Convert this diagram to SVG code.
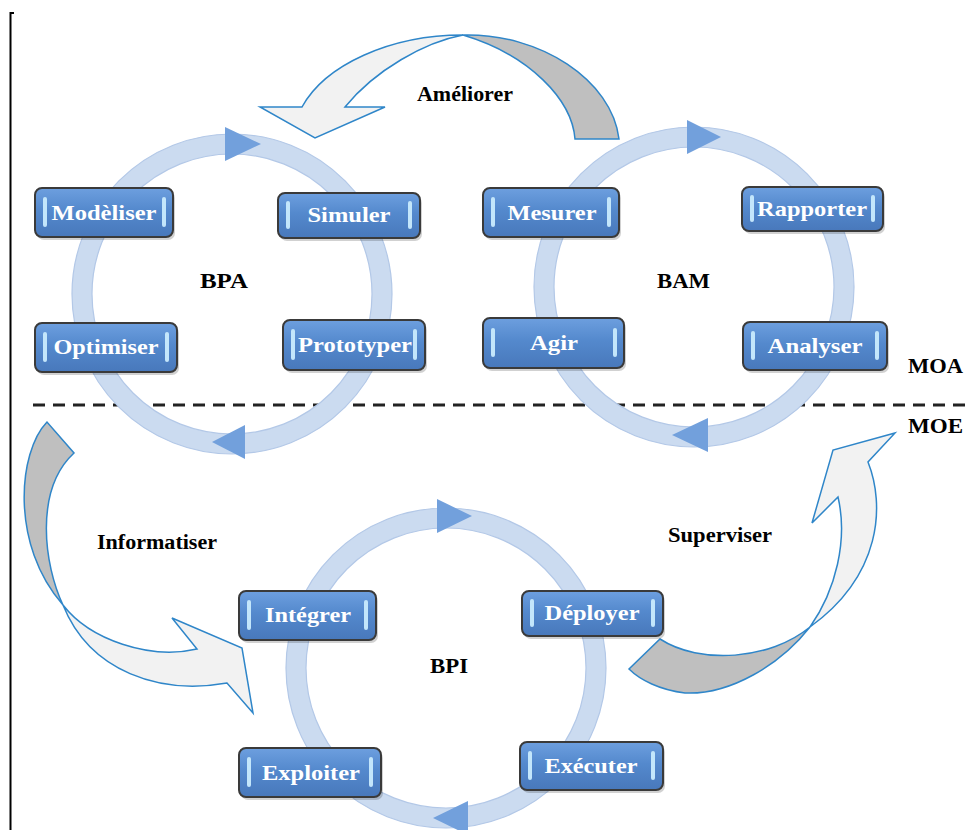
<svg xmlns="http://www.w3.org/2000/svg" width="969" height="830" viewBox="0 0 969 830">
<style>
.ring{fill:none;stroke:#cbdbf0;stroke-width:20}
.ringedge{fill:none;stroke:#b3c8e7;stroke-width:1.2}
.rarrow{fill:#72a0dc}
.light{fill:#f2f2f2;stroke:#2f86c9;stroke-width:1.5;stroke-linejoin:miter}
.gray{fill:#bfbfbf;stroke:#2f86c9;stroke-width:1.5}
.box{fill:url(#g);stroke:#3a3a3a;stroke-width:2}
.shadow{fill:#000;opacity:0.18}
.bar{fill:#c3e6fb}
.nt{font-family:"Liberation Serif","Times New Roman",serif;font-weight:bold;font-size:21px;fill:#ffffff;text-anchor:middle}
.lb{font-family:"Liberation Serif","Times New Roman",serif;font-weight:bold;font-size:20px;fill:#000000}
</style>
<defs>
<linearGradient id="g" x1="0" y1="0" x2="0" y2="1">
<stop offset="0" stop-color="#6d9fdf"/>
<stop offset="0.45" stop-color="#5489cd"/>
<stop offset="1" stop-color="#4878bb"/>
</linearGradient>
</defs>
<rect width="969" height="830" fill="#ffffff"/>
<polyline points="14,13 10.5,13 10.5,830" fill="none" stroke="#000" stroke-width="2"/>
<line x1="33" y1="405" x2="969" y2="405" stroke="#222" stroke-width="3" stroke-dasharray="12 8"/>

<g id="connectors">
  <g id="cycle-bpa">
    <circle class="ring" cx="232" cy="294" r="150"/>
    <circle class="ringedge" cx="232" cy="294" r="160"/>
    <circle class="ringedge" cx="232" cy="294" r="140"/>
    <polygon class="rarrow" points="225,127 225,161 261,144"/>
    <polygon class="rarrow" points="245,425 245,459 212,442"/>
  </g>
  <g id="cycle-bam">
    <circle class="ring" cx="694" cy="287" r="150"/>
    <circle class="ringedge" cx="694" cy="287" r="160"/>
    <circle class="ringedge" cx="694" cy="287" r="140"/>
    <polygon class="rarrow" points="687,120 687,154 721,137"/>
    <polygon class="rarrow" points="708,418 708,452 672,435"/>
  </g>
  <g id="cycle-bpi">
    <circle class="ring" cx="446" cy="668" r="150"/>
    <circle class="ringedge" cx="446" cy="668" r="160"/>
    <circle class="ringedge" cx="446" cy="668" r="140"/>
    <polygon class="rarrow" points="437,499 437,533 472,516"/>
    <polygon class="rarrow" points="468,801 468,835 433,818"/>
  </g>
  <g id="arrow-ameliorer">
    <path class="gray" d="M463,35 C540,33 612,80 619,139 L575,139 C572,100 530,55 463,35 Z"/>
    <path class="light" d="M302,107 C325,65 390,35 463,35 C425,42 375,70 345,107 L385,107 L315,138 L260,107 Z"/>
  </g>
  <g id="arrow-informatiser">
    <path class="gray" d="M47,422 C18,452 10,545 63,605 C44,565 34,490 74,453 Z"/>
    <path class="light" d="M63,605 C90,640 150,660 197,649 L172,618 L242,648 L253,713 L227,683 C160,695 90,672 63,605 Z"/>
  </g>
  <g id="arrow-superviser">
    <path class="gray" d="M660,639 C700,665 770,660 810,627 C780,665 730,695 685,693 C660,690 640,680 629,669 Z"/>
    <path class="light" d="M810,627 C836,590 848,540 838,497 L812,523 L833,450 L895,433 L868,462 C885,505 882,575 810,627 Z"/>
  </g>
</g>

<g id="labels">
  <text class="lb" x="200" y="288" textLength="48" lengthAdjust="spacingAndGlyphs">BPA</text>
  <text class="lb" x="657" y="288" textLength="53" lengthAdjust="spacingAndGlyphs">BAM</text>
  <text class="lb" x="430" y="673" textLength="38" lengthAdjust="spacingAndGlyphs">BPI</text>
  <text class="lb" x="417" y="101" font-size="19" textLength="96" lengthAdjust="spacingAndGlyphs">Améliorer</text>
  <text class="lb" x="97" y="549" textLength="120" lengthAdjust="spacingAndGlyphs">Informatiser</text>
  <text class="lb" x="668" y="542" textLength="104" lengthAdjust="spacingAndGlyphs">Superviser</text>
  <text class="lb" x="908" y="373" textLength="55" lengthAdjust="spacingAndGlyphs">MOA</text>
  <text class="lb" x="908" y="433" textLength="55" lengthAdjust="spacingAndGlyphs">MOE</text>
</g>

<g id="node-modeliser">
  <rect class="shadow" x="37" y="191" width="138" height="49" rx="7"/>
  <rect class="box" x="35" y="188" width="138" height="49" rx="7"/>
  <rect class="bar" x="43" y="197" width="4" height="30" rx="2"/>
  <rect class="bar" x="162" y="197" width="4" height="30" rx="2"/>
  <text class="nt" x="104" y="220" textLength="105" lengthAdjust="spacingAndGlyphs">Modèliser</text>
</g>
<g id="node-simuler">
  <rect class="shadow" x="280" y="196" width="142" height="45" rx="7"/>
  <rect class="box" x="278" y="193" width="142" height="45" rx="7"/>
  <rect class="bar" x="286" y="201" width="4" height="28" rx="2"/>
  <rect class="bar" x="408" y="201" width="4" height="28" rx="2"/>
  <text class="nt" x="349" y="222" textLength="83" lengthAdjust="spacingAndGlyphs">Simuler</text>
</g>
<g id="node-optimiser">
  <rect class="shadow" x="37" y="326" width="142" height="49" rx="7"/>
  <rect class="box" x="35" y="323" width="142" height="49" rx="7"/>
  <rect class="bar" x="43" y="332" width="4" height="30" rx="2"/>
  <rect class="bar" x="165" y="332" width="4" height="30" rx="2"/>
  <text class="nt" x="106" y="354" textLength="105" lengthAdjust="spacingAndGlyphs">Optimiser</text>
</g>
<g id="node-prototyper">
  <rect class="shadow" x="285" y="323" width="142" height="50" rx="7"/>
  <rect class="box" x="283" y="320" width="142" height="50" rx="7"/>
  <rect class="bar" x="291" y="329" width="4" height="31" rx="2"/>
  <rect class="bar" x="413" y="329" width="4" height="31" rx="2"/>
  <text class="nt" x="355" y="352" textLength="114" lengthAdjust="spacingAndGlyphs">Prototyper</text>
</g>
<g id="node-mesurer">
  <rect class="shadow" x="485" y="191" width="136" height="49" rx="7"/>
  <rect class="box" x="483" y="188" width="136" height="49" rx="7"/>
  <rect class="bar" x="491" y="197" width="4" height="30" rx="2"/>
  <rect class="bar" x="607" y="197" width="4" height="30" rx="2"/>
  <text class="nt" x="552" y="220" textLength="89" lengthAdjust="spacingAndGlyphs">Mesurer</text>
</g>
<g id="node-rapporter">
  <rect class="shadow" x="744" y="190" width="141" height="44" rx="7"/>
  <rect class="box" x="742" y="187" width="141" height="44" rx="7"/>
  <rect class="bar" x="750" y="195" width="4" height="27" rx="2"/>
  <rect class="bar" x="871" y="195" width="4" height="27" rx="2"/>
  <text class="nt" x="812" y="216" textLength="110" lengthAdjust="spacingAndGlyphs">Rapporter</text>
</g>
<g id="node-agir">
  <rect class="shadow" x="485" y="321" width="141" height="50" rx="7"/>
  <rect class="box" x="483" y="318" width="141" height="50" rx="7"/>
  <rect class="bar" x="491" y="328" width="4" height="29" rx="2"/>
  <rect class="bar" x="613" y="328" width="4" height="29" rx="2"/>
  <text class="nt" x="554" y="350" textLength="48" lengthAdjust="spacingAndGlyphs">Agir</text>
</g>
<g id="node-analyser">
  <rect class="shadow" x="745" y="325" width="144" height="48" rx="7"/>
  <rect class="box" x="743" y="322" width="144" height="48" rx="7"/>
  <rect class="bar" x="751" y="331" width="4" height="29" rx="2"/>
  <rect class="bar" x="875" y="331" width="4" height="29" rx="2"/>
  <text class="nt" x="815" y="353" textLength="95" lengthAdjust="spacingAndGlyphs">Analyser</text>
</g>
<g id="node-integrer">
  <rect class="shadow" x="241" y="594" width="137" height="49" rx="7"/>
  <rect class="box" x="239" y="591" width="137" height="49" rx="7"/>
  <rect class="bar" x="247" y="600" width="4" height="30" rx="2"/>
  <rect class="bar" x="364" y="600" width="4" height="30" rx="2"/>
  <text class="nt" x="308" y="622" textLength="86" lengthAdjust="spacingAndGlyphs">Intégrer</text>
</g>
<g id="node-exploiter">
  <rect class="shadow" x="241" y="751" width="142" height="49" rx="7"/>
  <rect class="box" x="239" y="748" width="142" height="49" rx="7"/>
  <rect class="bar" x="247" y="757" width="4" height="30" rx="2"/>
  <rect class="bar" x="369" y="757" width="4" height="30" rx="2"/>
  <text class="nt" x="311" y="780" textLength="98" lengthAdjust="spacingAndGlyphs">Exploiter</text>
</g>
<g id="node-deployer">
  <rect class="shadow" x="524" y="594" width="141" height="45" rx="7"/>
  <rect class="box" x="522" y="591" width="141" height="45" rx="7"/>
  <rect class="bar" x="530" y="599" width="4" height="28" rx="2"/>
  <rect class="bar" x="651" y="599" width="4" height="28" rx="2"/>
  <text class="nt" x="592" y="620" textLength="95" lengthAdjust="spacingAndGlyphs">Déployer</text>
</g>
<g id="node-executer">
  <rect class="shadow" x="522" y="745" width="143" height="48" rx="7"/>
  <rect class="box" x="520" y="742" width="143" height="48" rx="7"/>
  <rect class="bar" x="528" y="751" width="4" height="29" rx="2"/>
  <rect class="bar" x="651" y="751" width="4" height="29" rx="2"/>
  <text class="nt" x="591" y="773" textLength="93" lengthAdjust="spacingAndGlyphs">Exécuter</text>
</g>
</svg>
